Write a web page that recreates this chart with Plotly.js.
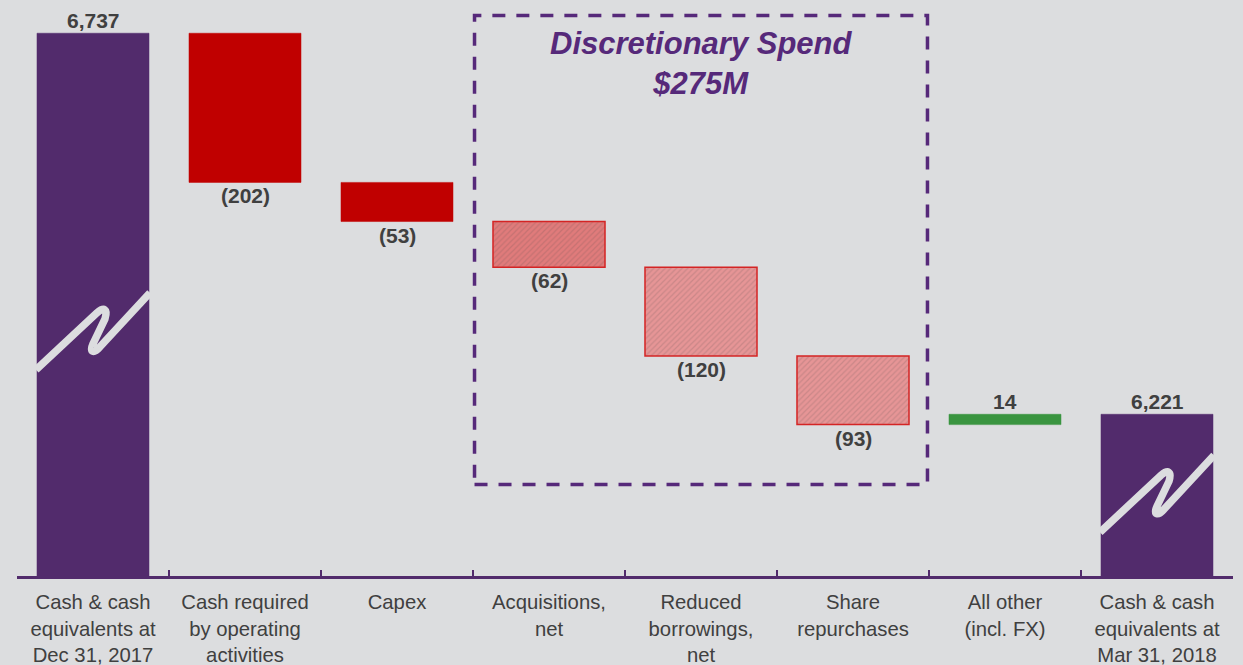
<!DOCTYPE html>
<html>
<head>
<meta charset="utf-8">
<script src="https://cdn.plot.ly/plotly-3.0.1.min.js"></script>
<style>
  html, body { margin: 0; padding: 0; background: #DCDDDF; }
  #chart { width: 1243px; height: 665px; }
</style>
</head>
<body>
<div id="chart"></div>
<script>
// ---- data ----
var categories = [
  "Cash & cash<br>equivalents at<br>Dec 31, 2017",
  "Cash required<br>by operating<br>activities",
  "Capex",
  "Acquisitions,<br>net",
  "Reduced<br>borrowings,<br>net",
  "Share<br>repurchases",
  "All other<br>(incl. FX)",
  "Cash & cash<br>equivalents at<br>Mar 31, 2018"
];
var values = [6737, -202, -53, -62, -120, -93, 14, 6221];
var kinds = ["total", "delta", "delta", "delta", "delta", "delta", "delta", "total"];
var groups = ["start", "operating", "operating", "discretionary", "discretionary", "discretionary", "other", "end"];
var boxTitle = "Discretionary Spend";
var boxAmount = "$275M";

// ---- styles ----
var BG = "#DCDDDF";
var PURPLE = "#522B6C";
var TEXT = "#404040";
var fillByIndex = ["#522B6C", "#C00000", "#C00000", "#E07B7B", "#E69596", "#E69596", "#3A9440", "#522B6C"];
var hatchFg = ["#522B6C", "#C00000", "#C00000", "#C85050", "#D07070", "#D07070", "#3A9440", "#522B6C"];

// ---- compute waterfall geometry from data ----
var yMin = 6002, yMax = 6782;
var bases = [], heights = [], labelY = [], labelText = [], labelAbove = [];
var running = 0;
for (var i = 0; i < values.length; i++) {
  var v = values[i];
  if (kinds[i] === "total") {
    bases.push(0); heights.push(v);
    running = v;
    labelY.push(v); labelAbove.push(true);
    labelText.push(v.toLocaleString("en-US"));
  } else {
    var next = running + v;
    bases.push(Math.min(running, next));
    heights.push(Math.abs(v));
    if (v < 0) { labelY.push(next); labelAbove.push(false); labelText.push("(" + Math.abs(v).toLocaleString("en-US") + ")"); }
    else { labelY.push(next); labelAbove.push(true); labelText.push(v.toLocaleString("en-US")); }
    running = next;
  }
}

var patternShapes = groups.map(function (g) { return g === "discretionary" ? "/" : ""; });
var lineColors = groups.map(function (g, i) { return g === "discretionary" ? "#D42424" : fillByIndex[i]; });
var lineWidths = groups.map(function (g) { return g === "discretionary" ? 1.5 : 0.5; });

var trace = {
  type: "bar",
  x: categories,
  y: heights,
  base: bases,
  marker: {
    color: fillByIndex,
    line: { color: lineColors, width: lineWidths },
    pattern: { shape: patternShapes, fgcolor: hatchFg, fgopacity: 0.18, size: 4, solidity: 0.3, fillmode: "overlay" }
  },
  hoverinfo: "skip",
  showlegend: false
};

var annotations = [];
for (var j = 0; j < categories.length; j++) {
  annotations.push({
    x: categories[j], y: labelY[j], xref: "x", yref: "y",
    text: "<b>" + labelText[j] + "</b>",
    showarrow: false,
    yanchor: labelAbove[j] ? "bottom" : "top",
    yshift: labelAbove[j] ? -1 : 0,
    font: { family: "Arial, Liberation Sans, sans-serif", size: 21, color: TEXT }
  });
}
// discretionary box title (centred over the discretionary group)
annotations.push({
  x: categories[4], xref: "x", y: 1, yref: "paper", yanchor: "top", yshift: -24,
  text: "<b><i>" + boxTitle + "</i></b><br><b><i>" + boxAmount + "</i></b>",
  showarrow: false,
  font: { family: "Arial, Liberation Sans, sans-serif", size: 31, color: "#56297A" }
});

// ---- decorations: dashed box and axis-break squiggles ----
var discIdx = [];
groups.forEach(function (g, i) { if (g === "discretionary") discIdx.push(i); });
var shapes = [{
  type: "rect", xref: "x", yref: "y",
  x0: discIdx[0] - 0.49, x1: discIdx[discIdx.length - 1] + 0.49,
  y0: 6126, y1: 6761,
  line: { color: "#56297A", width: 3.5, dash: "13px,11px" },
  fillcolor: "rgba(0,0,0,0)", layer: "below"
}];
var squigglePath = "M -57 -36 L 4 21 C 11 27, 15 25, 12 15 L 0 -10 C -4 -19, 1 -20, 7 -13 L 57 41";
var breakAnchors = [[0, 6330], [7, 6110]];
breakAnchors.forEach(function (b) {
  shapes.push({
    type: "path", xref: "x", yref: "y",
    xsizemode: "pixel", ysizemode: "pixel",
    xanchor: b[0], yanchor: b[1],
    path: squigglePath,
    line: { color: BG, width: 7.5 },
    layer: "above"
  });
});

var layout = {
  width: 1243, height: 665,
  paper_bgcolor: BG, plot_bgcolor: BG,
  margin: { l: 17, r: 10, t: 0, b: 89 },
  bargap: 0.263,
  font: { family: "Arial, Liberation Sans, sans-serif", color: TEXT },
  xaxis: {
    type: "category",
    showline: true, linecolor: PURPLE, linewidth: 3,
    ticks: "inside", tickson: "boundaries", ticklen: 6, tickwidth: 2, tickcolor: PURPLE,
    ticklabelstandoff: 6,
    tickfont: { family: "Arial, Liberation Sans, sans-serif", size: 20.3, color: TEXT },
    showgrid: false, zeroline: false, fixedrange: true
  },
  yaxis: {
    range: [yMin, yMax], visible: false, showgrid: false, zeroline: false, fixedrange: true
  },
  annotations: annotations,
  shapes: shapes
};

Plotly.newPlot("chart", [trace], layout, { displayModeBar: false, staticPlot: true });
</script>
</body>
</html>
